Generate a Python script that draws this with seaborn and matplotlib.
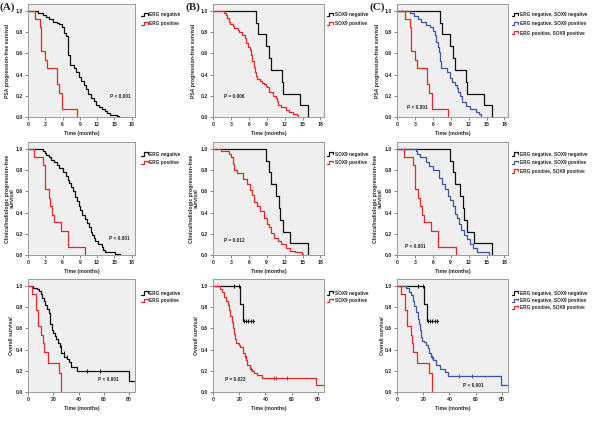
import numpy as np
import matplotlib
matplotlib.use('Agg')
import matplotlib.pyplot as plt
import seaborn as sns
from matplotlib.lines import Line2D
from matplotlib.legend_handler import HandlerLine2D

# ---------------- data ----------------
# row 1: PSA progression-free survival (months)
pfs_erg_neg_t = [0, 1.7, 2.6, 3.1, 3.6, 4.3, 5.1, 5.4, 5.9, 6.2, 6.6, 6.9, 7.0, 7.3, 8.0, 8.4, 8.8,
                 9.2, 9.7, 10.1, 10.5, 10.9, 11.4, 11.8, 12.3, 12.9, 13.3, 13.7, 14.3, 15.4, 15.9]
pfs_erg_neg_s = [1.0, 0.98, 0.96, 0.94, 0.92, 0.90, 0.89, 0.88, 0.85, 0.79, 0.76, 0.73, 0.58, 0.49,
                 0.46, 0.42, 0.38, 0.34, 0.30, 0.26, 0.22, 0.18, 0.15, 0.11, 0.09, 0.08, 0.06, 0.04,
                 0.02, 0.01, 0.0]
pfs_erg_pos_t = [0, 1.3, 2.1, 2.3, 3.0, 3.3, 5.0, 5.4, 5.9, 8.6]
pfs_erg_pos_s = [1.0, 0.92, 0.85, 0.62, 0.54, 0.46, 0.31, 0.23, 0.08, 0.0]
pfs_sox_neg_t = [0, 7.2, 7.5, 8.9, 9.4, 9.8, 11.5, 11.7, 14.6, 15.9]
pfs_sox_neg_s = [1.0, 0.89, 0.78, 0.67, 0.56, 0.44, 0.33, 0.22, 0.11, 0.0]
pfs_sox_pos_t = [0, 1.8, 2.1, 2.4, 2.6, 2.8, 3.3, 3.6, 4.2, 4.4, 4.9, 5.3, 5.6, 5.9, 6.2, 6.4, 6.6,
                 6.9, 7.0, 7.2, 7.4, 7.9, 8.2, 8.5, 8.8, 9.1, 9.3, 10.1, 10.5, 10.7, 10.9, 11.4,
                 12.2, 12.8, 13.4, 14.0, 14.3]
pfs_sox_pos_s = [1.0, 0.98, 0.96, 0.93, 0.90, 0.88, 0.86, 0.84, 0.82, 0.80, 0.77, 0.74, 0.70, 0.66,
                 0.63, 0.58, 0.53, 0.47, 0.42, 0.39, 0.36, 0.34, 0.32, 0.31, 0.29, 0.28, 0.24, 0.20,
                 0.18, 0.15, 0.11, 0.09, 0.07, 0.05, 0.03, 0.02, 0.0]
pfs_mix_t = [0, 2.1, 2.8, 3.5, 4.1, 4.8, 5.5, 6.0, 6.3, 6.6, 6.8, 7.0, 7.2, 7.4, 8.3, 8.9, 9.2,
             9.7, 10.0, 10.3, 10.5, 10.9, 11.5, 12.3, 13.2, 13.8, 14.1]
pfs_mix_s = [1.0, 0.98, 0.95, 0.92, 0.90, 0.87, 0.85, 0.81, 0.77, 0.71, 0.66, 0.61, 0.53, 0.46,
             0.42, 0.37, 0.33, 0.30, 0.27, 0.24, 0.20, 0.14, 0.10, 0.08, 0.05, 0.03, 0.0]

# row 2: clinical/radiologic progression-free survival (months)
cr_erg_neg_t = [0, 2.6, 2.9, 3.1, 3.6, 4.0, 4.6, 5.1, 5.4, 6.0, 6.6, 6.9, 7.1, 7.4, 7.8, 8.1, 8.6,
                8.9, 9.1, 9.4, 9.9, 10.3, 10.6, 10.9, 11.1, 11.4, 11.7, 12.2, 12.8, 13.0, 13.3, 15.1,
                16.0]
cr_erg_neg_s = [1.0, 0.98, 0.96, 0.94, 0.92, 0.90, 0.88, 0.85, 0.82, 0.78, 0.74, 0.71, 0.68, 0.64,
                0.60, 0.55, 0.51, 0.46, 0.42, 0.38, 0.34, 0.30, 0.26, 0.22, 0.19, 0.16, 0.13, 0.10,
                0.08, 0.05, 0.03, 0.01, 0.0]
cr_erg_pos_t = [0, 1.1, 2.6, 3.0, 3.6, 3.9, 4.2, 4.6, 5.7, 6.9, 9.9]
cr_erg_pos_s = [1.0, 0.92, 0.85, 0.62, 0.54, 0.46, 0.38, 0.31, 0.23, 0.08, 0.0]
cr_sox_neg_t = [0, 8.9, 9.4, 9.8, 10.6, 11.0, 11.3, 11.7, 12.9, 15.9]
cr_sox_neg_s = [1.0, 0.89, 0.78, 0.67, 0.56, 0.44, 0.33, 0.22, 0.11, 0.0]
cr_sox_pos_t = [0, 1.4, 2.6, 3.0, 3.3, 3.6, 4.0, 5.1, 5.7, 6.2, 6.5, 6.9, 7.3, 7.9, 8.5, 9.0, 9.4,
                9.8, 10.3, 10.9, 11.4, 12.3, 12.9, 13.7, 14.9, 15.1]
cr_sox_pos_s = [1.0, 0.98, 0.95, 0.92, 0.86, 0.80, 0.77, 0.72, 0.67, 0.61, 0.57, 0.50, 0.46, 0.41,
                0.35, 0.29, 0.26, 0.21, 0.16, 0.13, 0.10, 0.07, 0.04, 0.025, 0.01, 0.0]
cr_mix_t = [0, 3.1, 3.4, 3.9, 4.8, 5.4, 6.0, 7.1, 7.6, 8.0, 8.5, 8.9, 9.3, 9.7, 10.0, 10.4, 10.8,
            11.2, 11.7, 12.3, 12.8, 13.4, 15.4]
cr_mix_s = [1.0, 0.98, 0.95, 0.92, 0.88, 0.84, 0.80, 0.73, 0.67, 0.62, 0.56, 0.52, 0.46, 0.39,
            0.35, 0.29, 0.24, 0.19, 0.15, 0.10, 0.07, 0.03, 0.0]

# row 3: overall survival (months)
os_erg_neg_t = [0, 3.8, 7.5, 8.8, 10.0, 11.3, 12.5, 13.8, 15.0, 16.3, 17.0, 17.5, 18.8, 20.0, 21.3,
                22.5, 23.8, 25.0, 26.3, 28.8, 31.0, 32.5, 33.8, 38.8, 79.5, 85.0]
os_erg_neg_s = [1.0, 0.98, 0.97, 0.95, 0.92, 0.89, 0.86, 0.82, 0.78, 0.74, 0.69, 0.64, 0.58, 0.56,
                0.53, 0.50, 0.46, 0.42, 0.37, 0.33, 0.31, 0.28, 0.24, 0.20, 0.10, 0.10]
os_erg_neg_cens = [26.0, 28.5, 30.5, 47.0, 57.0]
os_erg_pos_t = [0, 3.0, 6.3, 8.0, 10.5, 11.5, 12.3, 15.5, 24.5, 26.3]
os_erg_pos_s = [1.0, 0.92, 0.77, 0.62, 0.54, 0.46, 0.38, 0.27, 0.18, 0.0]
os_sox_neg_t = [0, 20.7, 22.5, 31.0]
os_sox_neg_s = [1.0, 0.83, 0.67, 0.67]
os_sox_neg_cens = [15.7, 20.0, 23.5, 25.3, 27.0, 28.8, 30.8]
os_sox_pos_t = [0, 5.5, 6.8, 8.6, 10.0, 11.1, 12.4, 13.1, 14.4, 15.2, 16.2, 16.9, 17.7, 19.5, 20.7,
                22.5, 23.2, 24.5, 25.2, 25.8, 28.3, 29.5, 31.3, 33.3, 37.0, 78.8, 85.0]
os_sox_pos_s = [1.0, 0.97, 0.94, 0.90, 0.86, 0.82, 0.77, 0.72, 0.66, 0.60, 0.55, 0.50, 0.46, 0.44,
                0.42, 0.40, 0.37, 0.34, 0.30, 0.25, 0.22, 0.20, 0.18, 0.16, 0.13, 0.07, 0.07]
os_sox_pos_cens = [24.5, 28.8, 46.5, 47.7, 56.6]
os_mix_t = [0, 7.2, 9.3, 10.6, 11.9, 13.1, 14.4, 15.7, 16.5, 17.5, 18.3, 19.1, 20.9, 22.2, 23.5,
            24.7, 26.0, 27.3, 29.9, 32.5, 36.3, 38.9, 79.5, 85.0]
os_mix_s = [1.0, 0.98, 0.94, 0.91, 0.86, 0.81, 0.75, 0.69, 0.64, 0.58, 0.52, 0.48, 0.47, 0.44,
            0.41, 0.37, 0.33, 0.30, 0.25, 0.22, 0.19, 0.15, 0.07, 0.07]
os_mix_cens = [26.3, 47.4, 57.0]

p_values = [['P < 0.001', 'P = 0.006', 'P < 0.001'],
            ['P < 0.001', 'P = 0.012', 'P < 0.001'],
            ['P < 0.001', 'P = 0.023', 'P < 0.001']]
row_titles = ['PSA progression-free survival',
              'Clinical/radiologic progression-free\nsurvival',
              'Overall survival']
panel_letters = ['(A)', '(B)', '(C)']

BLACK, RED, BLUE = '#111111', '#e8262a', '#3b55a8'

# ---------------- style ----------------
sns.set_theme(style='ticks')
plt.rcParams['font.family'] = ['Liberation Sans', 'DejaVu Sans']
plt.rcParams['font.weight'] = 'bold'
plt.rcParams['axes.labelweight'] = 'bold'
FS = 3.7     # ticks / axis labels
FS_SMALL = 3.4   # legend / p values


class StepHandler(HandlerLine2D):
    # little step glyph like the SPSS legend
    def create_artists(self, legend, orig, xd, yd, w, h, fontsize, trans):
        x0, y0 = -xd, -yd
        xs = [x0, x0 + w * 0.35, x0 + w * 0.35, x0 + w, x0 + w]
        ys = [y0 + h * 0.1, y0 + h * 0.1, y0 + h * 0.95, y0 + h * 0.95, y0 + h * 0.55]
        ln = Line2D(xs, ys, color=orig.get_color(), lw=orig.get_linewidth())
        ln.set_transform(trans)
        return [ln]


def km(ax, t, s, color, cens=None):
    sns.lineplot(x=t, y=s, ax=ax, color=color, drawstyle='steps-post', estimator=None,
                 sort=False, lw=0.9, legend=False)
    if cens is not None:
        tt, ss = np.asarray(t), np.asarray(s)
        cy = ss[np.searchsorted(tt, cens, side='right') - 1]
        ax.plot(cens, cy, ls='', marker='|', ms=2.6, mew=0.7, color=color)


fig = plt.figure(figsize=(6.0, 4.21), dpi=100)

W, H = 600.0, 421.0
col_px = [(28, 107), (213, 111), (397, 111)]
row_px = [(4, 113), (142, 113), (279, 113)]
ylab_x = [[-0.17, -0.15, -0.15], [-0.12, -0.13, -0.13], [-0.13, -0.13, -0.11]]
ptext = [[(14.3, 0.19), (1.9, 0.19), (1.6, 0.085)],
         [(14.0, 0.16), (1.9, 0.14), (1.4, 0.08)],
         [(55.0, 0.12), (9.0, 0.12), (50.5, 0.06)]]
leg_x = [1.06, 1.03, 1.035]
leg_y = [0.925, 0.915, 0.895]
leg_sp = [0.85, 0.75, 0.45]

curves = [
    [[(pfs_erg_neg_t, pfs_erg_neg_s, BLACK, None, 'ERG negative'),
      (pfs_erg_pos_t, pfs_erg_pos_s, RED, None, 'ERG positive')],
     [(pfs_sox_neg_t, pfs_sox_neg_s, BLACK, None, 'SOX9 negative'),
      (pfs_sox_pos_t, pfs_sox_pos_s, RED, None, 'SOX9 positive')],
     [(pfs_sox_neg_t, pfs_sox_neg_s, BLACK, None, 'ERG negative, SOX9 negative'),
      (pfs_mix_t, pfs_mix_s, BLUE, None, 'ERG negative, SOX9 positive'),
      (pfs_erg_pos_t, pfs_erg_pos_s, RED, None, 'ERG positive, SOX9 positive')]],
    [[(cr_erg_neg_t, cr_erg_neg_s, BLACK, None, 'ERG negative'),
      (cr_erg_pos_t, cr_erg_pos_s, RED, None, 'ERG positive')],
     [(cr_sox_neg_t, cr_sox_neg_s, BLACK, None, 'SOX9 negative'),
      (cr_sox_pos_t, cr_sox_pos_s, RED, None, 'SOX9 positive')],
     [(cr_sox_neg_t, cr_sox_neg_s, BLACK, None, 'ERG negative, SOX9 negative'),
      (cr_mix_t, cr_mix_s, BLUE, None, 'ERG negative, SOX9 positive'),
      (cr_erg_pos_t, cr_erg_pos_s, RED, None, 'ERG positive, SOX9 positive')]],
    [[(os_erg_neg_t, os_erg_neg_s, BLACK, os_erg_neg_cens, 'ERG negative'),
      (os_erg_pos_t, os_erg_pos_s, RED, None, 'ERG positive')],
     [(os_sox_neg_t, os_sox_neg_s, BLACK, os_sox_neg_cens, 'SOX9 negative'),
      (os_sox_pos_t, os_sox_pos_s, RED, os_sox_pos_cens, 'SOX9 positive')],
     [(os_sox_neg_t, os_sox_neg_s, BLACK, os_sox_neg_cens, 'ERG negative, SOX9 negative'),
      (os_mix_t, os_mix_s, BLUE, os_mix_cens, 'ERG negative, SOX9 positive'),
      (os_erg_pos_t, os_erg_pos_s, RED, None, 'ERG positive, SOX9 positive')]],
]

for r in range(3):
    top, h = row_px[r]
    for c in range(3):
        left, w = col_px[c]
        ax = fig.add_axes([left / W, 1 - (top + h) / H, w / W, h / H])
        ax.set_facecolor('#efefef')
        handles, labels = [], []
        for t, s, col, cens, lab in curves[r][c]:
            km(ax, t, s, col, cens)
            handles.append(Line2D([], [], color=col, lw=0.9))
            labels.append(lab)
        if r < 2:
            ax.set_xlim(0, 18.6)
            ax.set_xticks([0, 3, 6, 9, 12, 15, 18])
        else:
            ax.set_xlim(0, 84.6)
            ax.set_xticks([0, 20, 40, 60, 80])
        ax.set_ylim(0, 1.065)
        ax.set_yticks([0, 0.2, 0.4, 0.6, 0.8, 1.0])
        ax.set_yticklabels(['0.0', '0.2', '0.4', '0.6', '0.8', '1.0'])
        for sp in ax.spines.values():
            sp.set_color('#9a9a9a')
            sp.set_linewidth(0.7)
        ax.tick_params(length=2, width=0.5, pad=1.5, labelsize=FS, color='#555555')
        ax.set_xlabel('Time (months)', fontsize=FS, fontweight='bold', labelpad=3)
        ax.set_ylabel(row_titles[r], fontsize=FS, fontweight='bold', linespacing=0.95)
        ax.yaxis.set_label_coords(ylab_x[r][c], 0.5)
        px, py = ptext[r][c]
        ax.text(px, py, p_values[r][c], fontsize=FS_SMALL, fontweight='bold',
                ha='left', va='center')
        ax.legend(handles, labels, loc='upper left', bbox_to_anchor=(leg_x[c], leg_y[r]),
                  frameon=False, fontsize=FS_SMALL, handlelength=1.3, handleheight=0.9,
                  handletextpad=0.4, labelspacing=leg_sp[r], borderpad=0, borderaxespad=0,
                  handler_map={Line2D: StepHandler()})

for letter, x in zip(panel_letters, [0, 185, 369]):
    fig.text(x / W, 1 - 7 / H, letter, fontsize=8, fontweight='bold',
             family=['Liberation Serif', 'DejaVu Serif'], ha='left', va='center')

fig.savefig('out.png', dpi=100)
